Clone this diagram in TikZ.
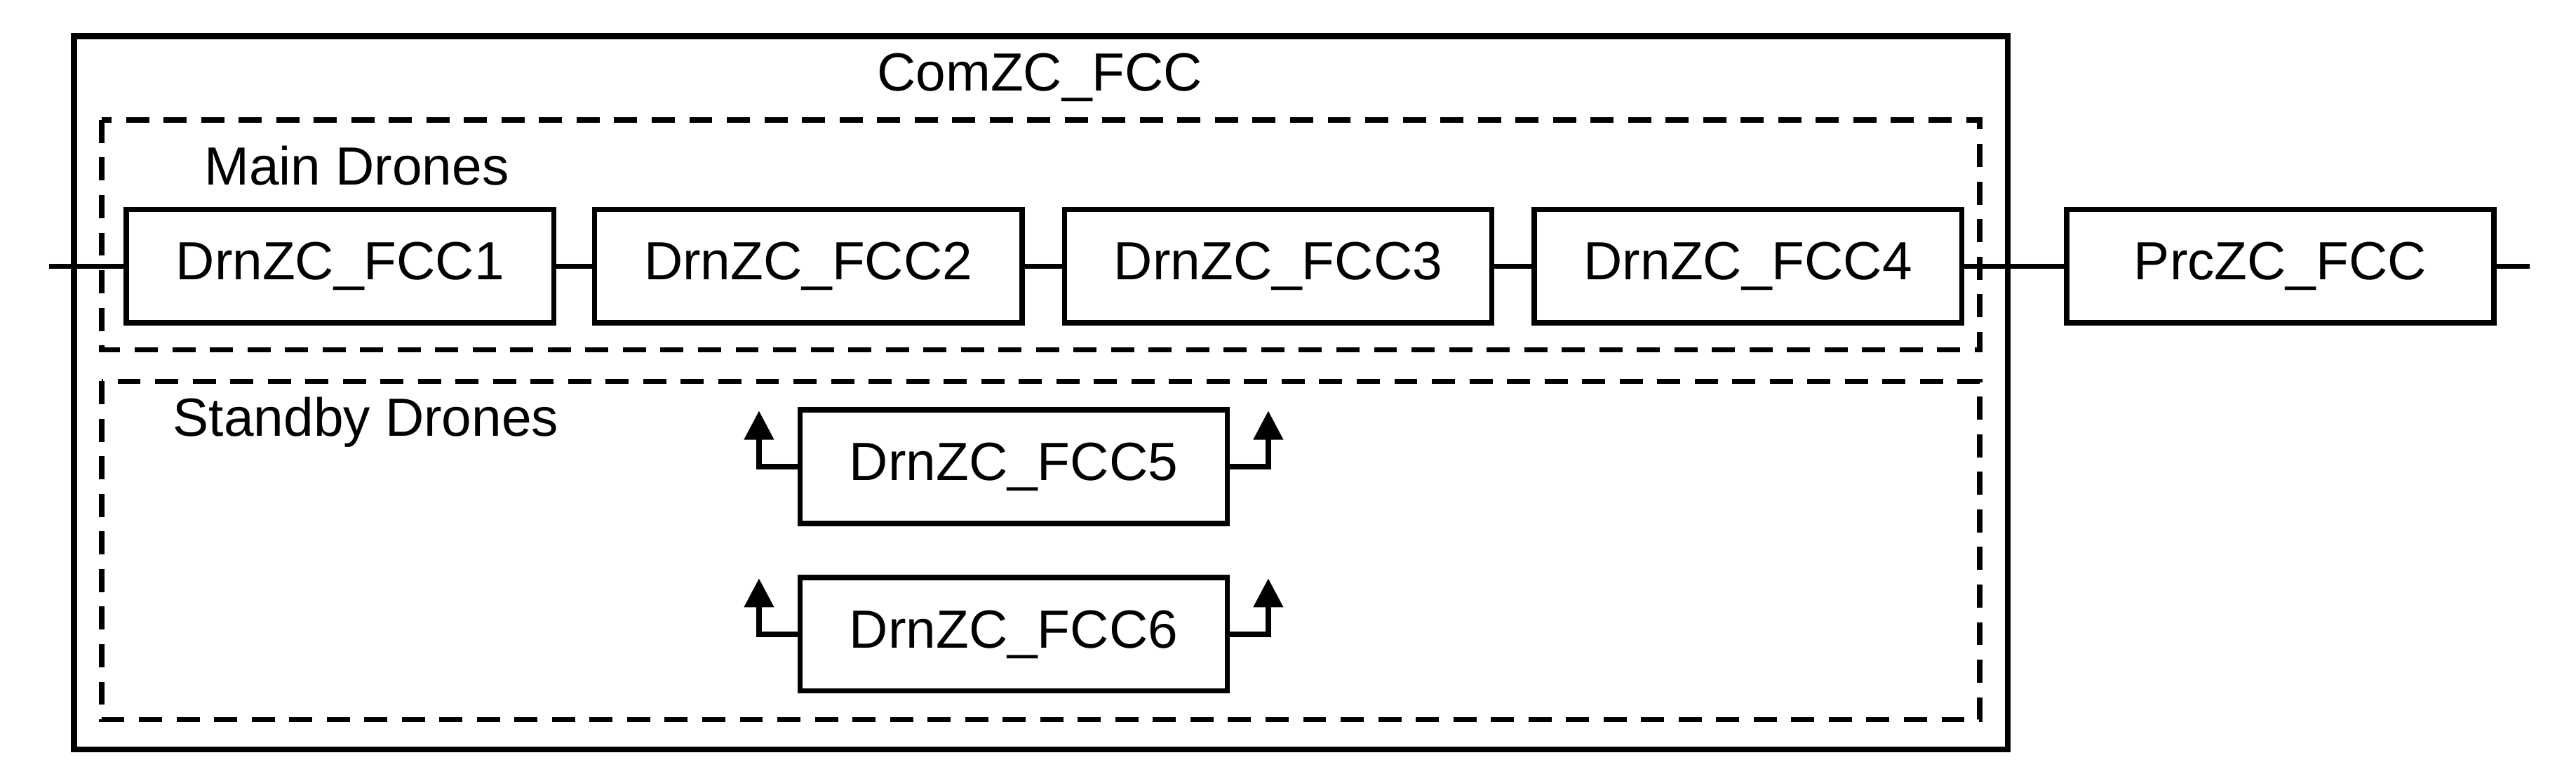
\documentclass[tikz,border=0pt]{standalone}
\usepackage{fontspec}
\setmainfont{Liberation Sans}
\usetikzlibrary{arrows.meta}
\begin{document}
\begin{tikzpicture}[x=0.01cm,y=-0.01cm,
  every node/.style={font=\fontsize{9.3}{11}\selectfont},
  box/.style={draw,line width=0.9pt,minimum width=2.6cm,minimum height=0.69cm,inner sep=0pt},
  dsh/.style={draw,line width=0.9pt,dash pattern=on 4pt off 2.5pt},
  ln/.style={line width=0.9pt},
  ar/.style={line width=0.9pt,-{Triangle[length=5pt,width=5pt]}}]
\useasboundingbox (0,0) rectangle (1568,471);
\draw[line width=1pt] (45,22) rectangle (1222,456);
\node (t) at (633,47) {ComZC\_FCC};
\draw[dsh] (62,73) rectangle (1205,213);
\draw[dsh] (62,232) rectangle (1205,438);
\node[anchor=west] (m) at (112,101) {Main Drones};
\node[anchor=west] (s) at (93,257) {Standby Drones};
\node[box] (f1) at (207,162) {DrnZC\_FCC1};
\node[box] (f2) at (492,162) {DrnZC\_FCC2};
\node[box] (f3) at (778,162) {DrnZC\_FCC3};
\node[box] (f4) at (1064,162) {DrnZC\_FCC4};
\node[box] (p) at (1388,162) {PrcZC\_FCC};
\node[box] (f5) at (617,284) {DrnZC\_FCC5};
\node[box] (f6) at (617,386) {DrnZC\_FCC6};
\coordinate (l) at (30,162);
\coordinate (r) at (1540,162);
\draw[ln] (l) -- (f1);
\draw[ln] (f1) -- (f2);
\draw[ln] (f2) -- (f3);
\draw[ln] (f3) -- (f4);
\draw[ln] (f4) -- (p);
\draw[ln] (p) -- (r);
\draw[ar] (f5.west) -| (462,250);
\draw[ar] (f5.east) -| (772,250);
\draw[ar] (f6.west) -| (462,352);
\draw[ar] (f6.east) -| (772,352);
\end{tikzpicture}
\end{document}
